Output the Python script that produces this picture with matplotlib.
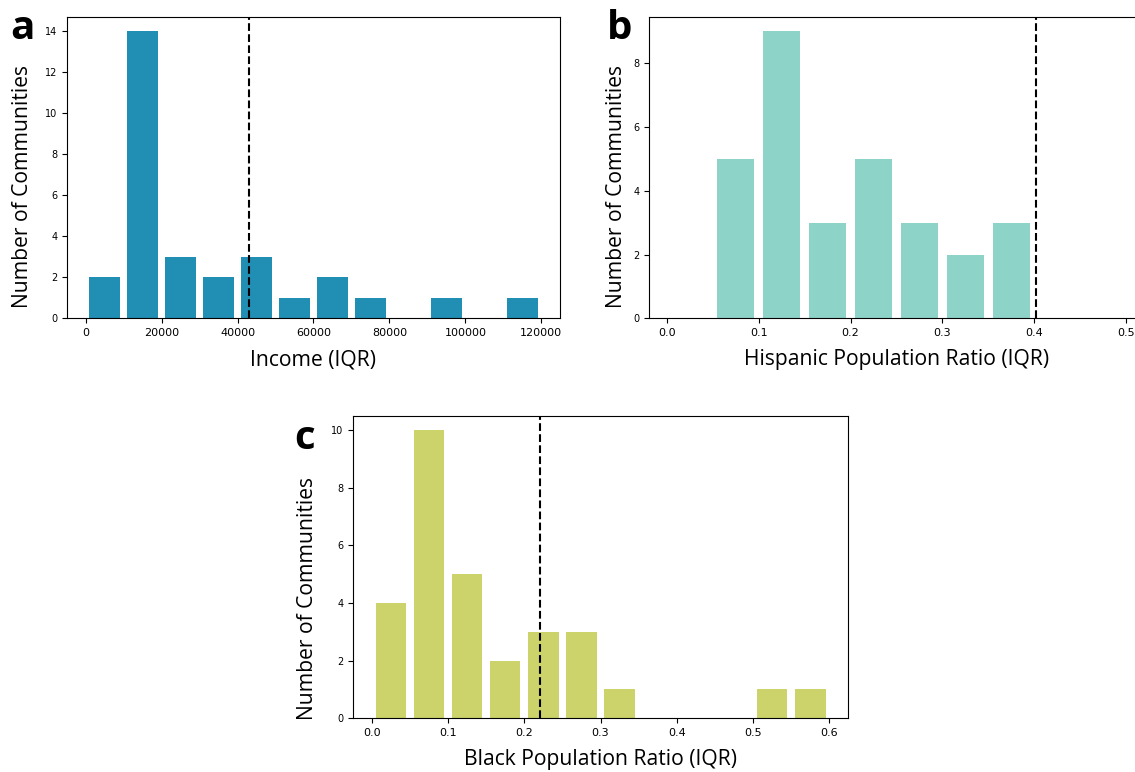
import numpy as np
import matplotlib
matplotlib.use('Agg')
import matplotlib.pyplot as plt

# histogram data
income_bins = [0, 10000, 20000, 30000, 40000, 50000, 60000, 70000, 80000, 90000, 100000, 110000, 120000]
income_counts = [2, 14, 3, 2, 3, 1, 2, 1, 0, 1, 0, 1]
income_median = 43100

hispanic_bins = [0.0, 0.05, 0.1, 0.15, 0.2, 0.25, 0.3, 0.35, 0.4, 0.45, 0.5]
hispanic_counts = [0, 5, 9, 3, 5, 3, 2, 3, 0, 0]
hispanic_median = 0.402

black_bins = [0.0, 0.05, 0.1, 0.15, 0.2, 0.25, 0.3, 0.35, 0.4, 0.45, 0.5, 0.55, 0.6]
black_counts = [4, 10, 5, 2, 3, 3, 1, 0, 0, 0, 1, 1]
black_median = 0.221

W, H = 1135, 772
fig = plt.figure(figsize=(W / 100, H / 100), dpi=100)

label_font = 'Open Sans'


def px_axes(left, top, right, bottom):
    return fig.add_axes([left / W, 1 - bottom / H, (right - left) / W, (bottom - top) / H])


def panel(ax, edges, counts, median, color, xlabel, ylab_xy, xlab_xy):
    edges = np.array(edges)
    centers = (edges[:-1] + edges[1:]) / 2
    ax.hist(centers, bins=edges, weights=counts, rwidth=0.8, color=color)
    ax.axvline(median, color='black', linestyle='--', linewidth=1.5)
    ax.tick_params(axis='x', labelsize=8)
    ax.tick_params(axis='y', labelsize=7)
    ax.set_ylabel('Number of Communities', family=label_font, fontsize=15.2)
    ax.set_xlabel(xlabel, family=label_font, fontsize=15.2)
    ax.yaxis.set_label_coords(*ylab_xy)
    ax.xaxis.set_label_coords(*xlab_xy)


ax_a = px_axes(67, 17, 560, 318.3)
panel(ax_a, income_bins, income_counts, income_median, '#218eb4',
      'Income (IQR)', (-0.069, 0.437), (0.5, -0.102))

ax_b = px_axes(649, 17, 1144, 318.3)
panel(ax_b, hispanic_bins, hispanic_counts, hispanic_median, '#8dd3c7',
      'Hispanic Population Ratio (IQR)', (-0.045, 0.437), (0.5, -0.102))

ax_c = px_axes(353, 415.7, 848, 718.3)
panel(ax_c, black_bins, black_counts, black_median, '#cbd36a',
      'Black Population Ratio (IQR)', (-0.071, 0.396), (0.5, -0.102))

# panel letters
for x, y, s in [(10, 39.3, 'a'), (607, 39.3, 'b'), (294, 449.3, 'c')]:
    fig.text(x / W, 1 - y / H, s, family=label_font, fontweight='bold',
             fontsize=29, ha='left', va='baseline')

fig.savefig('out.png', dpi=100)
